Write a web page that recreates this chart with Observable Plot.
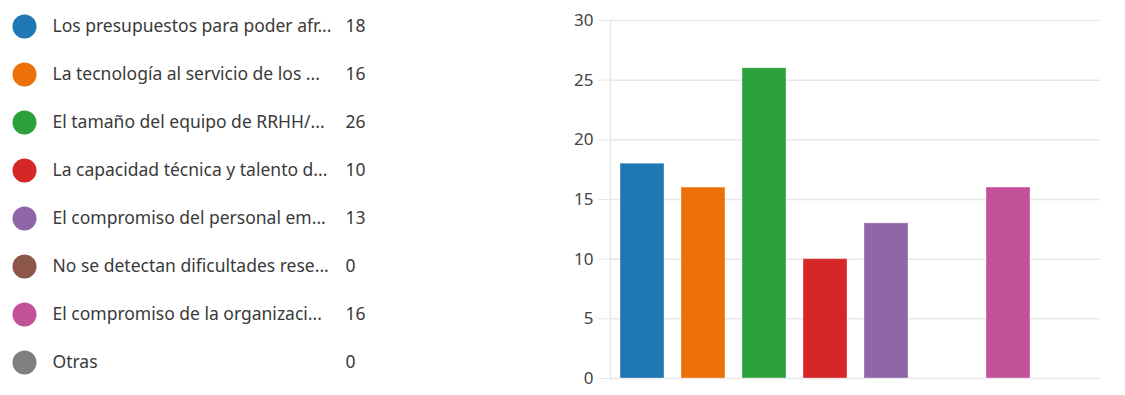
<!DOCTYPE html>
<html><head><meta charset="utf-8">
<script src="https://cdn.jsdelivr.net/npm/d3@7"></script>
<script src="https://cdn.jsdelivr.net/npm/@observablehq/plot@0.6"></script>
<style>
html,body{margin:0;padding:0;background:#fff;}
#wrap{display:flex;flex-direction:row;width:1125px;height:395px;}
svg{display:block;}
</style></head>
<body><div id="wrap"></div>
<script>
const categories = [
  "Los presupuestos para poder afr...",
  "La tecnología al servicio de los ...",
  "El tamaño del equipo de RRHH/...",
  "La capacidad técnica y talento d...",
  "El compromiso del personal em...",
  "No se detectan dificultades rese...",
  "El compromiso de la organizaci...",
  "Otras"
];
const values = [18, 16, 26, 10, 13, 0, 16, 0];
const colors = ["#1f77b4", "#ec7108", "#2ca03a", "#d62728", "#8f67a8", "#8c564b", "#c2519a", "#7f7f7f"];
const yTicks = [0, 5, 10, 15, 20, 25, 30];

const data = categories.map((c, i) => ({category: c, value: values[i], color: colors[i], idx: i}));
const font = "'Noto Sans', 'Open Sans', sans-serif";

const legend = Plot.plot({
  width: 560, height: 395,
  marginTop: 25, marginBottom: 33, marginLeft: 0, marginRight: 0,
  style: {fontFamily: font, background: "#fff"},
  y: {type: "point", domain: d3.range(categories.length), padding: 0, axis: null},
  marks: [
    Plot.dot(data, {y: "idx", frameAnchor: "left", dx: 24, r: 12, fill: "color", stroke: "none"}),
    Plot.text(data, {y: "idx", text: "category", frameAnchor: "left", dx: 52, textAnchor: "start", fontSize: 17.5, fill: "#3a3a3a"}),
    Plot.text(data, {y: "idx", text: d => String(d.value), frameAnchor: "left", dx: 345, textAnchor: "start", fontSize: 17.5, fill: "#3a3a3a"})
  ]
});

const chart = Plot.plot({
  width: 565, height: 395,
  marginTop: 20, marginBottom: 17, marginLeft: 50, marginRight: 25,
  style: {fontFamily: font, background: "#fff"},
  x: {domain: categories, paddingInner: 0.28, paddingOuter: 0.15, axis: null},
  y: {domain: [0, 30], axis: null},
  marks: [
    Plot.ruleY(yTicks, {stroke: "#e8e8e8", strokeWidth: 1.5}),
    Plot.frame({anchor: "left", stroke: "#e8e8e8", strokeWidth: 1.5}),
    Plot.axisY({ticks: yTicks, tickSize: 12, tickPadding: 5, stroke: "#e8e8e8", fill: "#444", fontSize: 17, label: null, tickFormat: d => String(d)}),
    Plot.barY(data, {x: "category", y: "value", fill: "color", stroke: "#ffffff", strokeOpacity: 0.35})
  ]
});

document.getElementById("wrap").append(legend, chart);
</script>
</body></html>
